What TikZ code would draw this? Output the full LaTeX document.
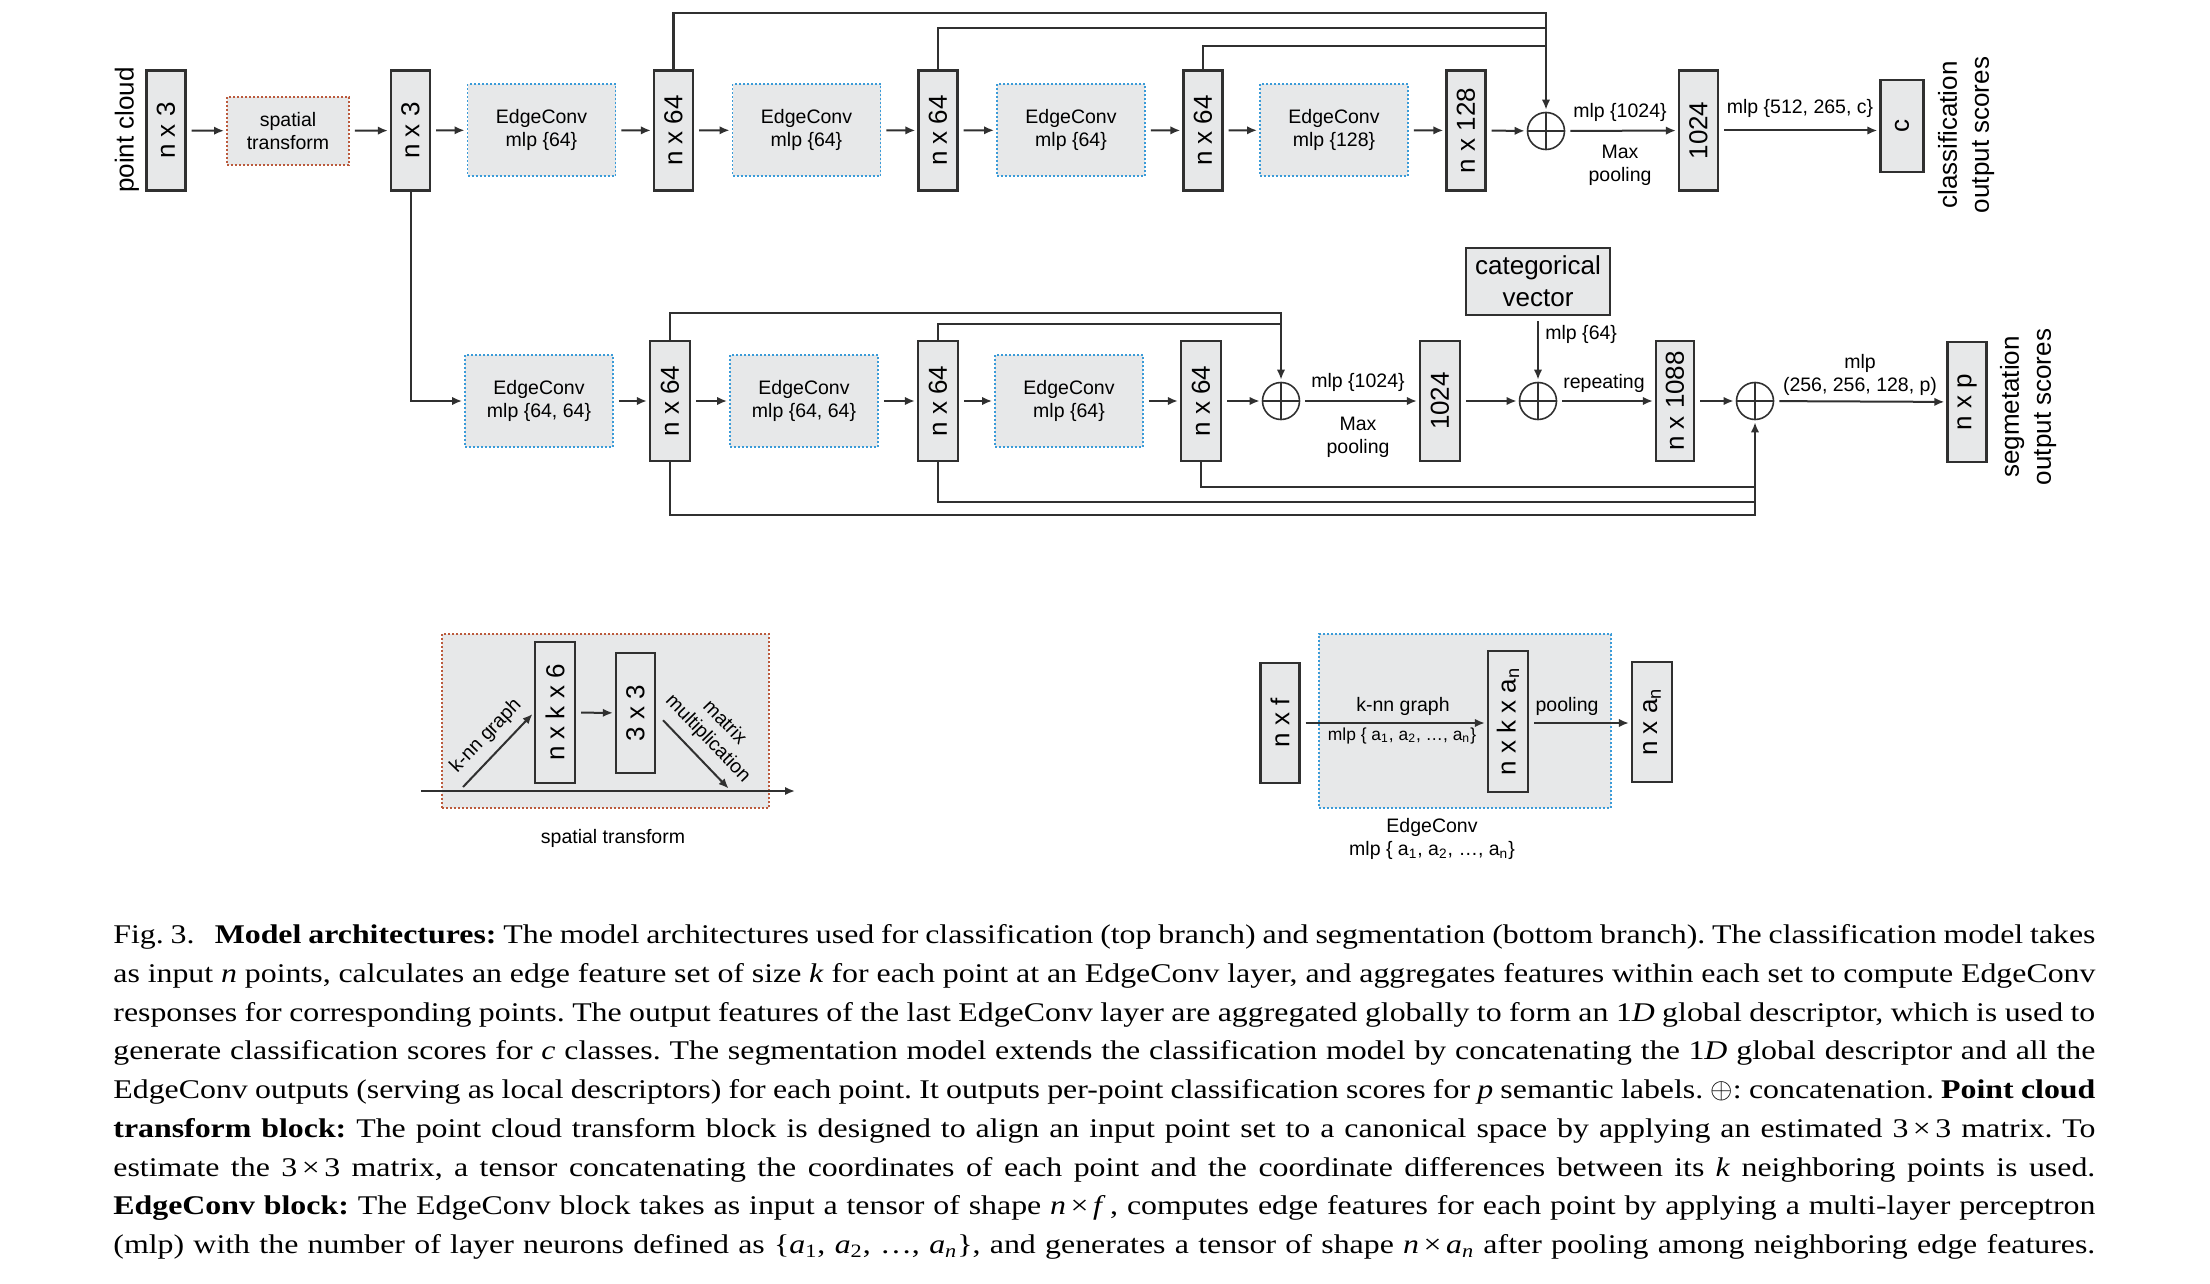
\documentclass[tikz,border=0pt]{standalone}
\usepackage{fontspec}
\setmainfont{Liberation Serif}
\newfontfamily\capfont{Liberation Serif}[FakeStretch=1.18]
\newfontfamily\diagfont{Liberation Sans}
\usepackage{graphicx}
\usetikzlibrary{arrows.meta}
\definecolor{boxfill}{HTML}{E7E8E9}
\definecolor{edgeblue}{HTML}{3A9BD8}
\definecolor{stred}{HTML}{BB5A3C}
\definecolor{ink}{HTML}{303030}
\begin{document}
\begin{tikzpicture}[x=0.5pt,y=-0.5pt,
  smallf/.style={font=\diagfont\fontsize{9.75}{11.5}\selectfont},
  bigf/.style={font=\diagfont\fontsize{13}{16}\selectfont},
  vbox/.style={draw=ink, line width=1.1pt, fill=boxfill, inner sep=0pt, minimum width=19.5pt, minimum height=60pt, bigf},
  ecbox/.style={draw=edgeblue, line width=0.9pt, dash pattern=on 1pt off 1pt, fill=boxfill, minimum width=74pt, minimum height=46pt, inner sep=0pt, align=center, smallf},
  stbox/.style={draw=stred, line width=0.9pt, dash pattern=on 1pt off 1pt, fill=boxfill, inner sep=0pt, align=center, smallf},
  catbox/.style={draw=ink, line width=1.1pt, fill=boxfill, inner sep=0pt, minimum width=72pt, minimum height=33.5pt, align=center, bigf},
  oplus/.style={circle, draw=ink, line width=0.8pt, minimum size=18.5pt, inner sep=0pt,
    path picture={\draw[ink, line width=0.6pt] (path picture bounding box.north) -- (path picture bounding box.south) (path picture bounding box.west) -- (path picture bounding box.east);}},
  conn/.style={draw=ink, line width=1pt, -{Latex[length=5pt,width=4.2pt]}, shorten <=2.5pt, shorten >=1pt},
  feed/.style={conn, shorten <=0pt},
  wire/.style={draw=ink, line width=1pt},
  lbl/.style={smallf, inner sep=0pt, align=center},
  capf/.style={font=\capfont\frenchspacing\fontsize{13.5}{16}\selectfont, inner sep=0pt, anchor=base west}]
\useasboundingbox (0,0) rectangle (2210,1284);

% ---------------- top branch (classification)
\node[bigf, rotate=90, inner sep=0pt] (ptc) at (127,130) {point cloud};
\node[vbox] (pc) at (166,130.5) {\rotatebox{90}{n x 3}};
\node[stbox, minimum width=61pt, minimum height=34pt] (st) at (288,131) {spatial\\transform};
\node[vbox] (t3) at (410.5,130.5) {\rotatebox{90}{n x 3}};
\node[ecbox] (ec1) at (541.5,130) {EdgeConv\\mlp \{64\}};
\node[vbox] (t64a) at (673.5,130.5) {\rotatebox{90}{n x 64}};
\node[ecbox] (ec2) at (806.5,130) {EdgeConv\\mlp \{64\}};
\node[vbox] (t64b) at (938,130.5) {\rotatebox{90}{n x 64}};
\node[ecbox] (ec3) at (1071,130) {EdgeConv\\mlp \{64\}};
\node[vbox] (t64c) at (1203,130.5) {\rotatebox{90}{n x 64}};
\node[ecbox] (ec4) at (1334,130) {EdgeConv\\mlp \{128\}};
\node[vbox] (t128) at (1466,130.5) {\rotatebox{90}{n x 128}};
\node[oplus] (cat1) at (1546,131) {};
\node[vbox] (t1024) at (1698.5,130.5) {\rotatebox{90}{1024}};
\node[vbox, minimum width=21.5pt, minimum height=46pt] (cbox) at (1902,126) {\rotatebox{90}{c}};
\node[bigf, rotate=90, align=center, inner sep=0pt] (clsl) at (1966,135) {classification\\output scores};

\node[lbl] (l1) at (1620,112) {mlp \{1024\}};
\node[lbl] (l2) at (1620,165) {Max\\pooling};
\node[lbl] (l3) at (1800,108) {mlp \{512, 265, c\}};

\draw[conn] (pc) -- (st);
\draw[conn] (st) -- (t3);
\draw[conn] (t3) -- (ec1);
\draw[conn] (ec1) -- (t64a);
\draw[conn] (t64a) -- (ec2);
\draw[conn] (ec2) -- (t64b);
\draw[conn] (t64b) -- (ec3);
\draw[conn] (ec3) -- (t64c);
\draw[conn] (t64c) -- (ec4);
\draw[conn] (ec4) -- (t128);
\draw[conn] (t128) -- (cat1);
\draw[conn] (cat1) -- (t1024);
\draw[conn] (t1024.east) -- (t1024.east -| cbox.west);

\coordinate (topA) at (1546,13);
\coordinate (topB) at (1546,28);
\coordinate (topC) at (1546,46);
\draw[feed, line width=1.4pt] (t64a.north) |- (topA) -- (cat1.north);
\draw[wire] (t64b.north) |- (topB);
\draw[wire] (t64c.north) |- (topC);

% ---------------- bottom branch (segmentation)
\node[ecbox] (ecs1) at (539,401) {EdgeConv\\mlp \{64, 64\}};
\node[vbox, minimum width=20pt] (s64a) at (670,401) {\rotatebox{90}{n x 64}};
\node[ecbox] (ecs2) at (804,401) {EdgeConv\\mlp \{64, 64\}};
\node[vbox, minimum width=20pt] (s64b) at (938,401) {\rotatebox{90}{n x 64}};
\node[ecbox] (ecs3) at (1069,401) {EdgeConv\\mlp \{64\}};
\node[vbox, minimum width=20pt] (s64c) at (1201,401) {\rotatebox{90}{n x 64}};
\node[oplus] (cat2) at (1281,401) {};
\node[vbox, minimum width=20pt] (s1024) at (1440,401) {\rotatebox{90}{1024}};
\node[oplus] (cat3) at (1538,401) {};
\node[catbox] (catv) at (1538,281.5) {categorical\\vector};
\node[vbox, minimum width=19pt] (s1088) at (1675,401) {\rotatebox{90}{n x 1088}};
\node[oplus] (cat4) at (1755,401) {};
\node[vbox, minimum width=19.5pt] (sp) at (1967,402) {\rotatebox{90}{n x p}};
\node[bigf, rotate=90, align=center, inner sep=0pt] (segl) at (2028,407) {segmetation\\output scores};

\node[lbl] (l4) at (1358,382) {mlp \{1024\}};
\node[lbl] (l5) at (1358,437) {Max\\pooling};
\node[lbl, anchor=west] (l6) at (1545,334) {mlp \{64\}};
\node[lbl] (l7) at (1604,383) {repeating};
\node[lbl] (l8) at (1860,375) {mlp\\(256, 256, 128, p)};

\draw[feed] (t3.south) |- (ecs1.west);
\draw[conn] (ecs1) -- (s64a);
\draw[conn] (s64a) -- (ecs2);
\draw[conn] (ecs2) -- (s64b);
\draw[conn] (s64b) -- (ecs3);
\draw[conn] (ecs3) -- (s64c);
\draw[conn] (s64c) -- (cat2);
\draw[conn] (cat2) -- (s1024);
\draw[conn] (s1024) -- (cat3);
\draw[conn] (cat3) -- (s1088);
\draw[conn] (s1088) -- (cat4);
\draw[conn] (cat4) -- (sp);
\draw[conn] (catv) -- (cat3);

\coordinate (bt1) at (1281,313);
\coordinate (bt2) at (1281,324);
\coordinate (bb1) at (1755,515);
\coordinate (bb2) at (1755,502);
\coordinate (bb3) at (1755,487);
\draw[feed] (s64a.north) |- (bt1) -- (cat2.north);
\draw[wire] (s64b.north) |- (bt2);
\draw[feed] (s64a.south) |- (bb1) -- (cat4.south);
\draw[wire] (s64b.south) |- (bb2);
\draw[wire] (s64c.south) |- (bb3);

% ---------------- spatial transform block
\node[stbox, minimum width=163.5pt, minimum height=87pt] (stbig) at (605.5,721) {};
\node[vbox, minimum width=20pt, minimum height=70.5pt] (nkk6) at (555,712.5) {\rotatebox{90}{n x k x 6}};
\node[vbox, minimum width=19.5pt, minimum height=60pt] (t33) at (635.5,713) {\rotatebox{90}{3 x 3}};
\coordinate (stin) at (421,791);
\coordinate (stout) at (797,791);
\coordinate (kstart) at (463,787);
\coordinate (mend) at (730,790);
\draw[feed] (stin) -- (stout);
\draw[feed] (kstart) -- (nkk6.west);
\draw[conn] (nkk6) -- (t33);
\draw[conn, shorten <=5pt] (t33.east) -- (mend);
\node[lbl, rotate=46] (knnl) at (486,736) {k-nn graph};
\node[lbl, rotate=-46] (mml) at (716,731) {matrix\\multiplication};
\node[lbl] (stl) at (613,838) {spatial transform};

% ---------------- EdgeConv block
\node[ecbox, minimum width=146pt, minimum height=87pt] (ecbig) at (1465,721) {};
\node[vbox] (nf) at (1280,723) {\rotatebox{90}{n x f}};
\node[vbox, minimum width=20pt, minimum height=70.5pt] (nkan) at (1508,721.5) {\rotatebox{90}{n x k x a\textsubscript{n}}};
\node[vbox, minimum width=20pt] (nan) at (1652,722) {\rotatebox{90}{n x a\textsubscript{n}}};
\draw[conn] (nf.east) -- (nf.east -| nkan.west);
\draw[conn] (nkan.east |- nf.east) -- (nf.east -| nan.west);
\node[lbl] (l9) at (1403,706) {k-nn graph};
\node[lbl, font=\diagfont\fontsize{8.7}{11}\selectfont] (l10) at (1402,736) {mlp \{ a\textsubscript{1}, a\textsubscript{2}, …, a\textsubscript{n}\}};
\node[lbl] (l11) at (1567,706) {pooling};
\node[lbl] (l12) at (1432,839) {EdgeConv\\mlp \{ a\textsubscript{1}, a\textsubscript{2}, …, a\textsubscript{n}\}};

% ---------------- caption
\node[capf] (cap1) at (113,943.5) {\makebox[991pt][s]{Fig.\hspace*{0.25em}3.\hspace*{0.75em}\textbf{Model architectures:} The model architectures used for classification (top branch) and segmentation (bottom branch). The classification model takes}};
\node[capf] (cap2) at (113,982.25) {\makebox[991pt][s]{as input \textit{n} points, calculates an edge feature set of size \textit{k} for each point at an EdgeConv layer, and aggregates features within each set to compute EdgeConv}};
\node[capf] (cap3) at (113,1021) {\makebox[991pt][s]{responses for corresponding points. The output features of the last EdgeConv layer are aggregated globally to form an 1\textit{D} global descriptor, which is used to}};
\node[capf] (cap4) at (113,1059.75) {\makebox[991pt][s]{generate classification scores for \textit{c} classes. The segmentation model extends the classification model by concatenating the 1\textit{D} global descriptor and all the}};
\node[capf] (cap5) at (113,1098.5) {\makebox[991pt][s]{EdgeConv outputs (serving as local descriptors) for each point. It outputs per-point classification scores for \textit{p} semantic labels. $\oplus$: concatenation. \textbf{Point cloud}}};
\node[capf] (cap6) at (113,1137.25) {\makebox[991pt][s]{\textbf{transform block:} The point cloud transform block is designed to align an input point set to a canonical space by applying an estimated 3\,×\,3 matrix. To}};
\node[capf] (cap7) at (113,1176) {\makebox[991pt][s]{estimate the 3\,×\,3 matrix, a tensor concatenating the coordinates of each point and the coordinate differences between its \textit{k} neighboring points is used.}};
\node[capf] (cap8) at (113,1214.75) {\makebox[991pt][s]{\textbf{EdgeConv block:} The EdgeConv block takes as input a tensor of shape \textit{n}\,×\,\textit{f}\,, computes edge features for each point by applying a multi-layer perceptron}};
\node[capf] (cap9) at (113,1253.5) {\makebox[991pt][s]{(mlp) with the number of layer neurons defined as \{\textit{a}\textsubscript{1}, \textit{a}\textsubscript{2}, …, \textit{a}\textsubscript{\textit{n}}\}, and generates a tensor of shape \textit{n}\,×\,\textit{a}\textsubscript{\textit{n}} after pooling among neighboring edge features.}};
\end{tikzpicture}
\end{document}
